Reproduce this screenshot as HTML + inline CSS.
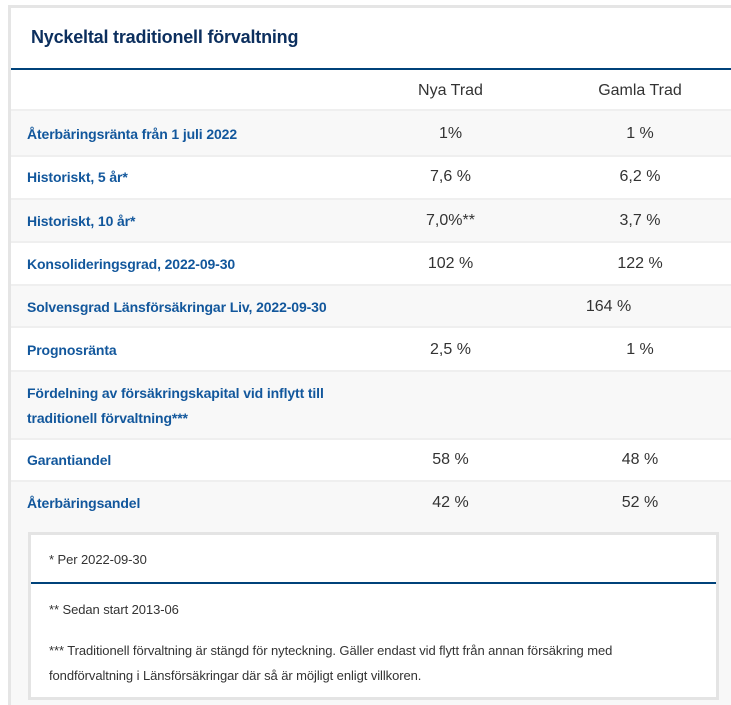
<!DOCTYPE html>
<html><head><meta charset="utf-8">
<style>
*{margin:0;padding:0;box-sizing:border-box}
html,body{width:731px;height:705px;overflow:hidden;background:#fff;font-family:"Liberation Sans",Arial,sans-serif}
.abs{position:absolute}
.lbl{position:absolute;left:27px;font-weight:bold;font-size:14px;line-height:20px;color:#12579c;white-space:nowrap;letter-spacing:-0.12px}
.val{position:absolute;font-size:16px;line-height:20px;color:#333;white-space:nowrap;width:200px;text-align:center}
.c2{left:350.5px}
.c3{left:540px}
.sep{position:absolute;left:11px;width:720px;height:2px;background:#efefef}
.row{position:absolute;left:11px;width:720px}
.g{background:#f8f8f8}
.w{background:#fff}
.fn{position:absolute;left:49px;font-size:13px;line-height:20px;color:#333;white-space:nowrap;letter-spacing:-0.08px}
</style></head><body>
<!-- outer borders -->
<div class="abs" style="left:8px;top:5px;width:723px;height:3px;background:#e5e5e5"></div>
<div class="abs" style="left:8px;top:5px;width:3px;height:700px;background:#e5e5e5"></div>
<!-- title -->
<div class="abs" style="left:31px;top:28px;font-size:18px;line-height:18px;font-weight:bold;color:#0c2f5e;letter-spacing:-0.2px;white-space:nowrap">Nyckeltal traditionell förvaltning</div>
<div class="abs" style="left:11px;top:68px;width:720px;height:2px;background:#00427a"></div>

<!-- rows -->
<div class="row w" style="top:70px;height:39px"></div>
<div class="sep" style="top:109px"></div>
<div class="row g" style="top:111px;height:44px"></div>
<div class="sep" style="top:155px"></div>
<div class="row w" style="top:157px;height:41px"></div>
<div class="sep" style="top:198px"></div>
<div class="row g" style="top:200px;height:41px"></div>
<div class="sep" style="top:241px"></div>
<div class="row w" style="top:243px;height:41px"></div>
<div class="sep" style="top:284px"></div>
<div class="row g" style="top:286px;height:40px"></div>
<div class="sep" style="top:326px"></div>
<div class="row w" style="top:328px;height:42px"></div>
<div class="sep" style="top:370px"></div>
<div class="row g" style="top:372px;height:66px"></div>
<div class="sep" style="top:438px"></div>
<div class="row w" style="top:440px;height:40px"></div>
<div class="sep" style="top:480px"></div>
<div class="row g" style="top:482px;height:223px"></div>

<!-- header -->
<div class="val c2" style="top:80.5px">Nya Trad</div>
<div class="val c3" style="top:80.5px">Gamla Trad</div>

<div class="lbl" style="top:124px">Återbäringsränta från 1 juli 2022</div>
<div class="val c2" style="top:123.5px">1%</div>
<div class="val c3" style="top:123.5px">1 %</div>

<div class="lbl" style="top:167px">Historiskt, 5 år*</div>
<div class="val c2" style="top:166.5px">7,6 %</div>
<div class="val c3" style="top:166.5px">6,2 %</div>

<div class="lbl" style="top:211px">Historiskt, 10 år*</div>
<div class="val c2" style="top:210.5px">7,0%**</div>
<div class="val c3" style="top:210.5px">3,7 %</div>

<div class="lbl" style="top:254px">Konsolideringsgrad, 2022-09-30</div>
<div class="val c2" style="top:253.5px">102 %</div>
<div class="val c3" style="top:253.5px">122 %</div>

<div class="lbl" style="top:297px">Solvensgrad Länsförsäkringar Liv, 2022-09-30</div>
<div class="val" style="left:508.5px;top:296.5px">164 %</div>

<div class="lbl" style="top:340px">Prognosränta</div>
<div class="val c2" style="top:339.5px">2,5 %</div>
<div class="val c3" style="top:339.5px">1 %</div>

<div class="lbl" style="top:383px;line-height:25px;margin-top:-2.5px">Fördelning av försäkringskapital vid inflytt till<br>traditionell förvaltning***</div>

<div class="lbl" style="top:450px">Garantiandel</div>
<div class="val c2" style="top:449.5px">58 %</div>
<div class="val c3" style="top:449.5px">48 %</div>

<div class="lbl" style="top:493px">Återbäringsandel</div>
<div class="val c2" style="top:492.5px">42 %</div>
<div class="val c3" style="top:492.5px">52 %</div>

<!-- footnote box -->
<div class="abs" style="left:28px;top:532px;width:691px;height:168px;background:#fff;border:3px solid #e4e4e4"></div>
<div class="abs" style="left:31px;top:582px;width:685px;height:2px;background:#00427a"></div>
<div class="fn" style="top:550px">* Per 2022-09-30</div>
<div class="fn" style="top:600px">** Sedan start 2013-06</div>
<div class="fn" style="top:641px">*** Traditionell förvaltning är stängd för nyteckning. Gäller endast vid flytt från annan försäkring med</div>
<div class="fn" style="top:666px">fondförvaltning i Länsförsäkringar där så är möjligt enligt villkoren.</div>
</body></html>
